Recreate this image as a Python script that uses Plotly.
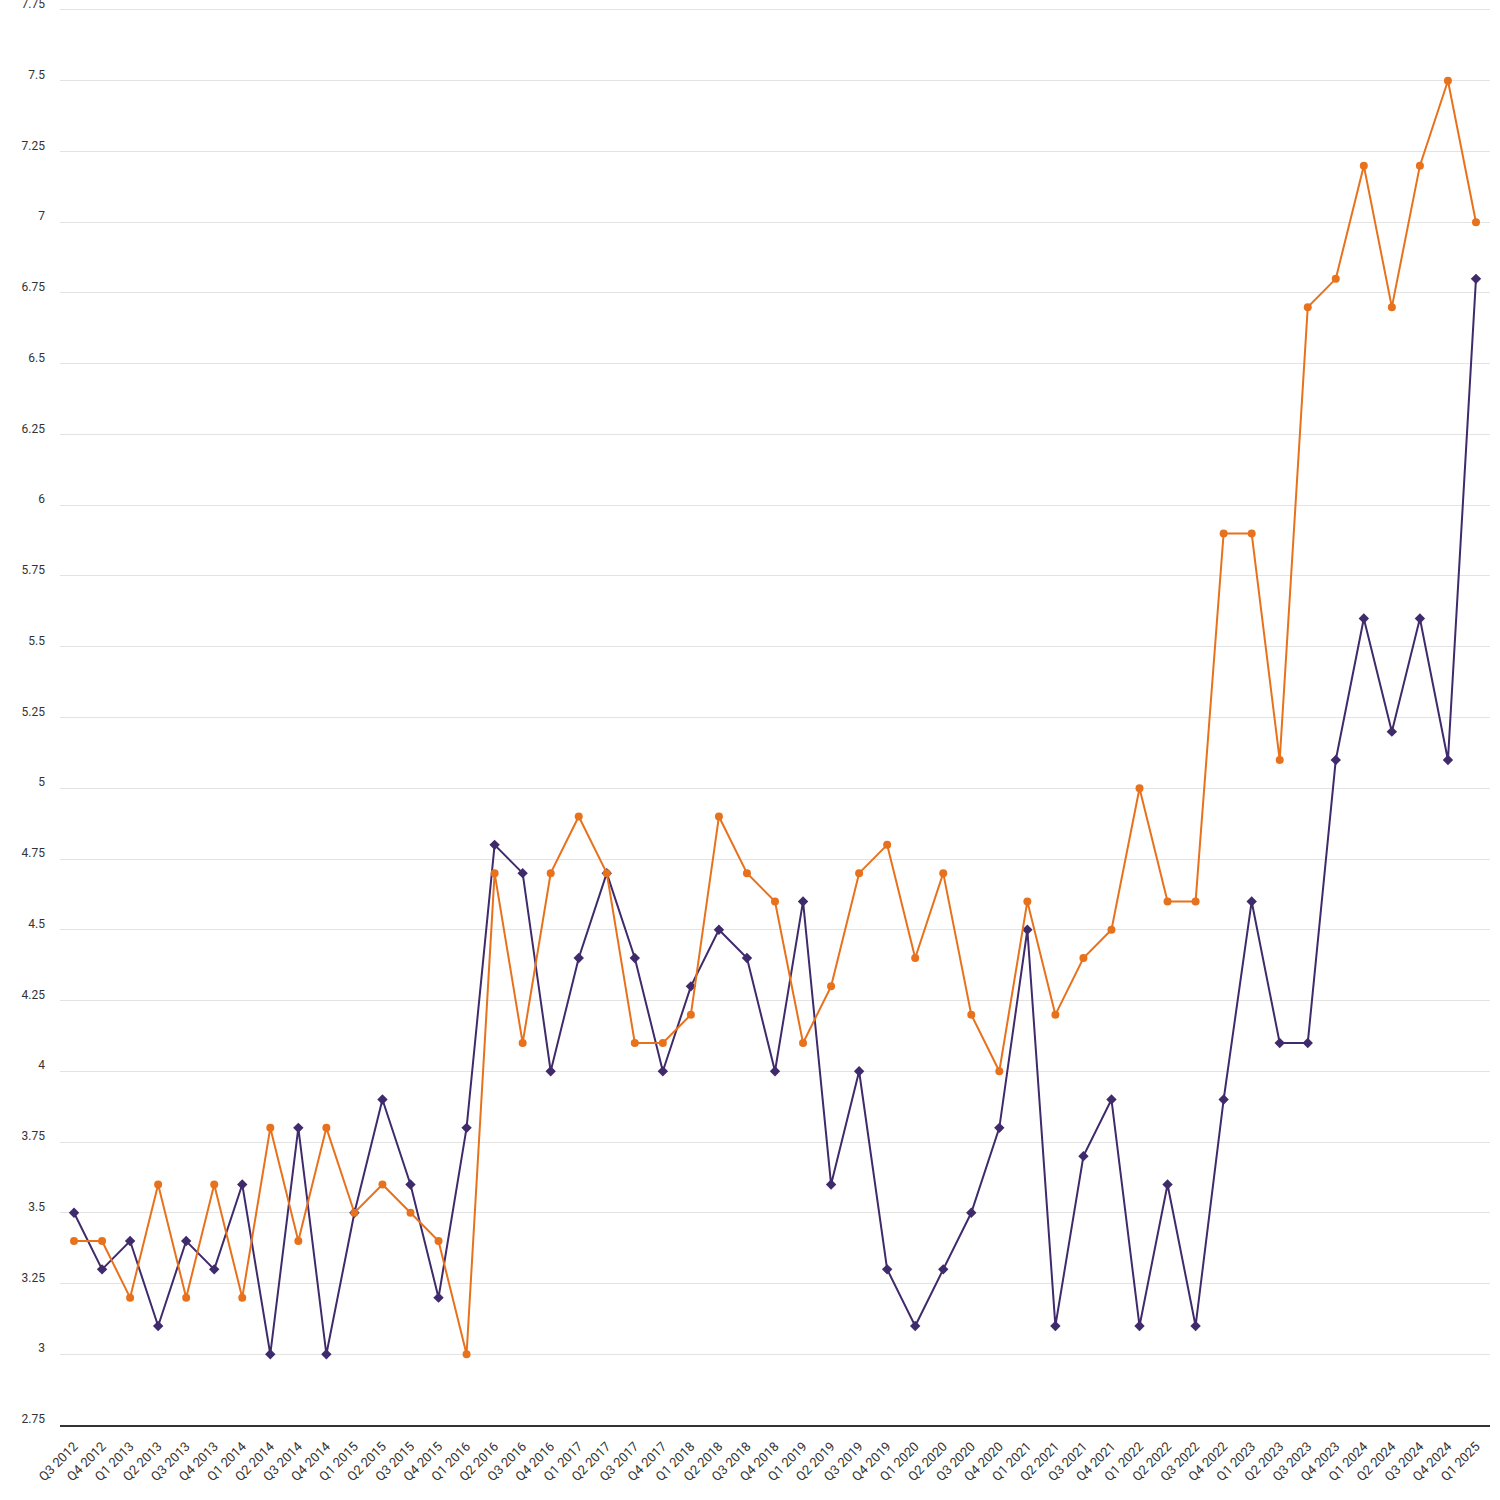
import plotly.graph_objects as go

quarters = ["Q3 2012", "Q4 2012"] + [f"Q{q} {y}" for y in range(2013, 2025) for q in range(1, 5)] + ["Q1 2025"]

series_orange = [3.4, 3.4, 3.2, 3.6, 3.2, 3.6, 3.2, 3.8, 3.4, 3.8,
                 3.5, 3.6, 3.5, 3.4, 3.0, 4.7, 4.1, 4.7, 4.9, 4.7,
                 4.1, 4.1, 4.2, 4.9, 4.7, 4.6, 4.1, 4.3, 4.7, 4.8,
                 4.4, 4.7, 4.2, 4.0, 4.6, 4.2, 4.4, 4.5, 5.0, 4.6,
                 4.6, 5.9, 5.9, 5.1, 6.7, 6.8, 7.2, 6.7, 7.2, 7.5,
                 7.0]

series_purple = [3.5, 3.3, 3.4, 3.1, 3.4, 3.3, 3.6, 3.0, 3.8, 3.0,
                 3.5, 3.9, 3.6, 3.2, 3.8, 4.8, 4.7, 4.0, 4.4, 4.7,
                 4.4, 4.0, 4.3, 4.5, 4.4, 4.0, 4.6, 3.6, 4.0, 3.3,
                 3.1, 3.3, 3.5, 3.8, 4.5, 3.1, 3.7, 3.9, 3.1, 3.6,
                 3.1, 3.9, 4.6, 4.1, 4.1, 5.1, 5.6, 5.2, 5.6, 5.1,
                 6.8]

y_ticks = [2.75 + 0.25 * i for i in range(21)]
y_tick_text = [f"{v:g}" for v in y_ticks]

PURPLE = "#3f2a6b"
ORANGE = "#e8711c"

fig = go.Figure()
fig.add_trace(go.Scatter(
    x=quarters, y=series_purple, mode="lines+markers",
    line=dict(color=PURPLE, width=2),
    marker=dict(symbol="diamond", size=8, color=PURPLE),
    showlegend=False,
))
fig.add_trace(go.Scatter(
    x=quarters, y=series_orange, mode="lines+markers",
    line=dict(color=ORANGE, width=2),
    marker=dict(symbol="circle", size=8, color=ORANGE),
    showlegend=False,
))

fig.update_layout(
    width=1500, height=1500,
    margin=dict(l=60, r=10, t=3, b=75, autoexpand=False),
    paper_bgcolor="white", plot_bgcolor="white",
    font=dict(family="Roboto", size=12, color="#333333"),
)
fig.update_xaxes(
    type="category", tickangle=-45, showgrid=False, automargin=False,
    showline=True, linecolor="#333333", linewidth=1.5,
    ticks="", range=[-0.5, 50.5], ticklabelstandoff=7,
    tickfont=dict(size=13, color="#333333"),
)
fig.update_yaxes(
    range=[2.75, 7.7747], tickvals=y_ticks, ticktext=y_tick_text, automargin=False,
    showgrid=True, gridcolor="#e3e3e3", gridwidth=1,
    zeroline=False, showline=False, ticks="",
    ticklabelstandoff=14, ticklabelshift=-6, ticklabeloverflow="allow",
    tickfont=dict(size=12, color="#333333"),
)

fig.write_html(
    "out.html",
    config={"displayModeBar": False},
    post_script="document.body.style.margin='0';document.body.style.padding='0';",
)
